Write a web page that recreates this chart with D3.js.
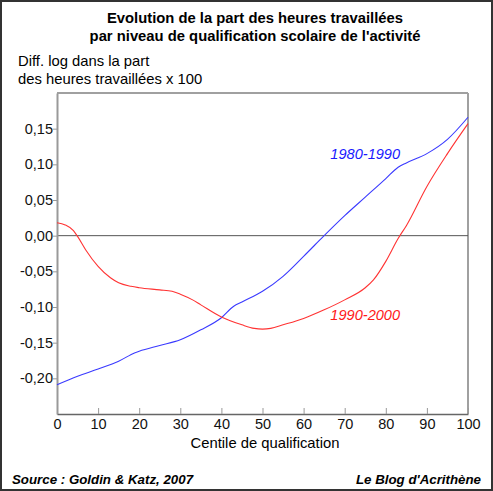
<!DOCTYPE html>
<meta charset="utf-8">
<script src="https://d3js.org/d3.v7.min.js"></script>
<style>
  body { margin: 0; background: #fff; }
  text { font-family: "Liberation Sans", Arial, sans-serif; }
</style>
<body>
<div id="chart"></div>
<script>
// centile de qualification
var centile80 = [0, 5, 10, 15, 19, 20, 25, 30, 35, 40, 43, 45, 50, 55, 60, 65, 70, 75, 80, 83, 85, 90, 95, 100];
var serie8090 = [-0.209, -0.197, -0.187, -0.176, -0.164, -0.162, -0.154, -0.146, -0.132, -0.115, -0.099, -0.093, -0.078, -0.057, -0.029, 0.000, 0.028, 0.054, 0.080, 0.096, 0.102, 0.115, 0.135, 0.166];

var centile90 = [0, 2, 4, 5, 7, 10, 13, 15, 18, 20, 25, 28, 30, 33, 35, 40, 45, 48, 50, 52, 55, 60, 65, 70, 75, 77, 80, 83, 85, 90, 95, 100];
var serie9000 = [0.018, 0.015, 0.007, -0.001, -0.020, -0.043, -0.059, -0.066, -0.071, -0.073, -0.076, -0.078, -0.082, -0.090, -0.097, -0.114, -0.125, -0.130, -0.131, -0.130, -0.125, -0.116, -0.104, -0.090, -0.073, -0.062, -0.036, -0.004, 0.014, 0.069, 0.115, 0.157];

var xTicks = [0, 10, 20, 30, 40, 50, 60, 70, 80, 90, 100];
var yTicks = [-0.20, -0.15, -0.10, -0.05, 0.00, 0.05, 0.10, 0.15];

var W = 493, H = 491;
var margin = {top: 93, right: 25, bottom: 77, left: 57},
    width = W - margin.left - margin.right,
    height = H - margin.top - margin.bottom;

var svg = d3.select("#chart")
  .append("svg")
    .attr("width", W)
    .attr("height", H);

// outer frame
svg.append("rect")
  .attr("x", 1).attr("y", 1)
  .attr("width", W - 2).attr("height", H - 2)
  .style("fill", "#fff")
  .style("stroke", "#333")
  .style("stroke-width", 2);

// title
svg.append("text")
  .attr("x", 255).attr("y", 23)
  .attr("text-anchor", "middle")
  .style("font-size", "14.8px").style("font-weight", "bold")
  .text("Evolution de la part des heures travaillées");
svg.append("text")
  .attr("x", 255).attr("y", 41)
  .attr("text-anchor", "middle")
  .style("font-size", "14.8px").style("font-weight", "bold")
  .text("par niveau de qualification scolaire de l'activité");

// y title
svg.append("text").attr("x", 18).attr("y", 66)
  .style("font-size", "14.8px").text("Diff. log dans la part");
svg.append("text").attr("x", 18).attr("y", 84)
  .style("font-size", "14.8px").text("des heures travaillées x 100");

var g = svg.append("g")
  .attr("transform", "translate(" + margin.left + "," + margin.top + ")");

var x = d3.scaleLinear().domain([0, 100]).range([0, width]);
var y = d3.scaleLinear().domain([-0.25, 0.20]).range([height, 0]);

var fmt = function(d) { return d3.format(".2f")(d).replace(".", ",").replace("−", "-"); };

// plot box top / right
g.append("line").attr("x1", 0).attr("x2", width).attr("y1", 0).attr("y2", 0)
  .style("stroke", "#a0a0a0").style("stroke-width", 2);
g.append("line").attr("x1", width).attr("x2", width).attr("y1", 0).attr("y2", height)
  .style("stroke", "#a0a0a0").style("stroke-width", 2);

// zero line
g.append("line").attr("x1", 0).attr("x2", width).attr("y1", y(0)).attr("y2", y(0))
  .style("stroke", "#555").style("stroke-width", 1);

// y axis
var yAxis = g.append("g")
  .call(d3.axisLeft(y).tickValues(yTicks).tickFormat(fmt).tickSize(4).tickSizeOuter(0));
yAxis.select(".domain").style("stroke", "#999").style("stroke-width", 2);
yAxis.selectAll(".tick line").style("stroke", "#999");
yAxis.selectAll("text").style("font-size", "14.5px").style("fill", "#111")
  .attr("font-family", null).attr("x", -4);

// x axis
var xAxis = g.append("g")
  .attr("transform", "translate(0," + height + ")")
  .call(d3.axisBottom(x).tickValues(xTicks).tickSize(-6).tickSizeOuter(0));
xAxis.select(".domain").style("stroke", "#666").style("stroke-width", 1.5);
xAxis.selectAll(".tick line").style("stroke", "#999");
xAxis.selectAll("text").style("font-size", "14.5px").style("fill", "#111")
  .attr("font-family", null).attr("y", 5);

svg.append("text")
  .attr("x", 265).attr("y", 448)
  .attr("text-anchor", "middle")
  .style("font-size", "14.8px")
  .text("Centile de qualification");

// lines
var line = d3.line()
  .x(function(d) { return x(d[0]); })
  .y(function(d) { return y(d[1]); })
  .curve(d3.curveMonotoneX);

g.append("path")
  .datum(d3.zip(centile80, serie8090))
  .attr("d", line)
  .style("fill", "none").style("stroke", "#3a3aff").style("stroke-width", 1.1);

g.append("path")
  .datum(d3.zip(centile90, serie9000))
  .attr("d", line)
  .style("fill", "none").style("stroke", "#ff3333").style("stroke-width", 1.1);

// series labels
g.append("text").attr("x", x(66.5)).attr("y", y(0.108))
  .style("font-size", "14.6px").style("font-style", "italic").style("fill", "#1a1aff")
  .text("1980-1990");
g.append("text").attr("x", x(66.5)).attr("y", y(-0.118))
  .style("font-size", "14.6px").style("font-style", "italic").style("fill", "#ff1a1a")
  .text("1990-2000");

// footer
svg.append("text").attr("x", 12).attr("y", 484)
  .style("font-size", "13.3px").style("font-weight", "bold").style("font-style", "italic")
  .text("Source : Goldin & Katz, 2007");
svg.append("text").attr("x", 481).attr("y", 484)
  .attr("text-anchor", "end")
  .style("font-size", "13.3px").style("font-weight", "bold").style("font-style", "italic")
  .text("Le Blog d'Acrithène");
</script>
</body>
</html>
